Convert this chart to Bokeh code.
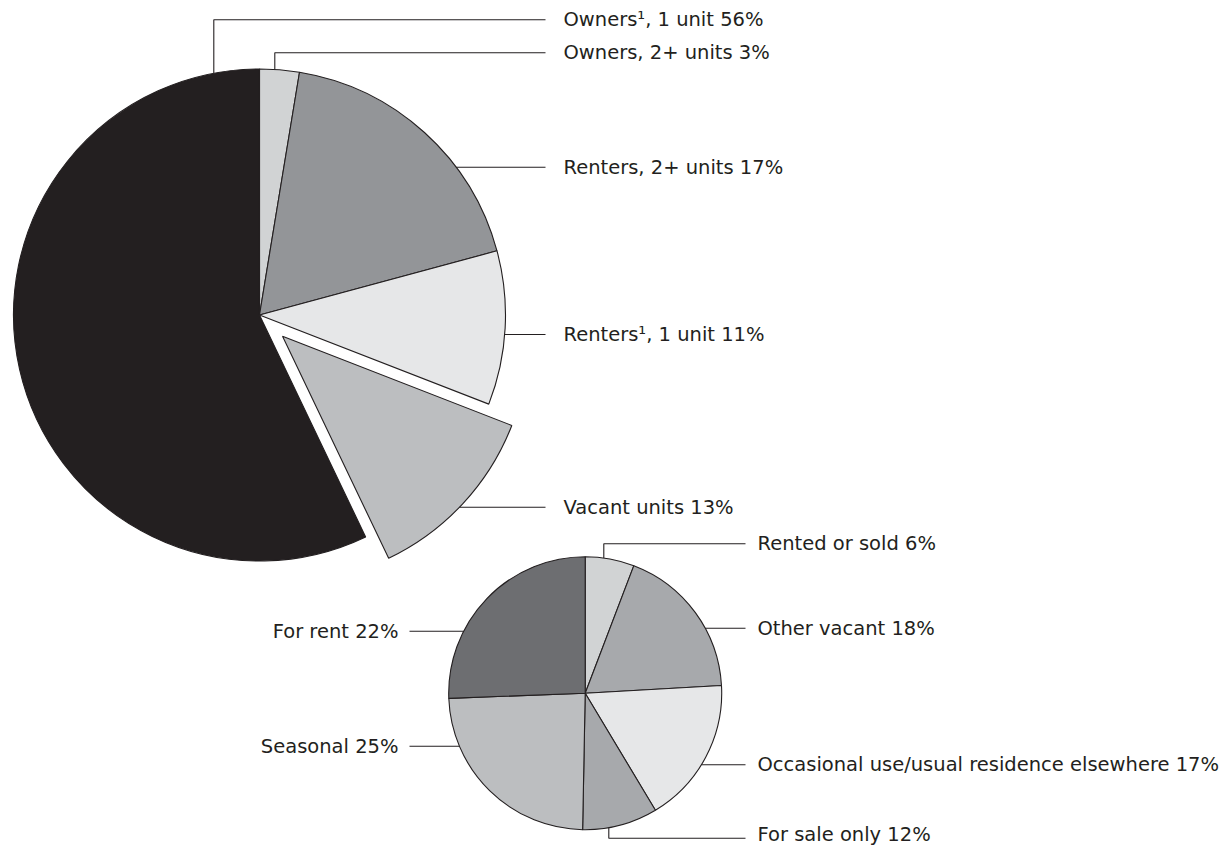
import math
from bokeh.plotting import figure
from bokeh.models import ColumnDataSource, Range1d
from bokeh.embed import file_html
from bokeh.resources import INLINE
from bokeh.core.properties import value

# ---- data (slices clockwise from 12 o'clock) ----
main_labels = ["Owners, 2+ units 3%", "Renters, 2+ units 17%", "Renters\u00b9, 1 unit 11%",
               "Vacant units 13%", "Owners\u00b9, 1 unit 56%"]
main_shares = [2.6, 18.2, 10.1, 12.0, 57.1]
main_colors = ["#d1d3d4", "#939598", "#e6e7e8", "#bcbec0", "#231f20"]

vac_labels = ["Rented or sold 6%", "Other vacant 18%",
              "Occasional use/usual residence elsewhere 17%", "For sale only 12%",
              "Seasonal 25%", "For rent 22%"]
vac_shares = [5.8, 18.3, 17.3, 8.9, 24.1, 25.6]
vac_colors = ["#d1d3d4", "#a7a9ac", "#e6e7e8", "#a7a9ac", "#bcbec0", "#6d6e71"]

# ---- layout (screen pixel space, y downward; drawn with y negated) ----
W, H = 1221, 846
FONT = value("DejaVu Sans")
FSIZE = "19.5px"
INK = "#231f20"

p = figure(width=W, height=H, output_backend="svg", toolbar_location=None,
           x_range=Range1d(0, W), y_range=Range1d(-H, 0),
           min_border=0, outline_line_color=None)
p.axis.visible = False
p.grid.visible = False
p.background_fill_color = "white"


def draw_pie(cx, cy, r, shares, colors, explode):
    total = float(sum(shares))
    xs, ys, sa, ea = [], [], [], []
    cum = 0.0
    centers = []
    for s, e in zip(shares, explode):
        a0 = cum / total
        cum += s
        a1 = cum / total
        mid = (a0 + a1) / 2 * 2 * math.pi  # clockwise from top
        ox = cx + e * math.sin(mid)
        oy = cy - e * math.cos(mid)  # screen y downward
        xs.append(ox)
        ys.append(-oy)
        sa.append(math.pi / 2 - 2 * math.pi * a1)
        ea.append(math.pi / 2 - 2 * math.pi * a0)
        centers.append((ox, oy))
    src = ColumnDataSource(dict(x=xs, y=ys, sa=sa, ea=ea, color=colors))
    p.wedge(x="x", y="y", radius=r, start_angle="sa", end_angle="ea",
            fill_color="color", line_color=INK, line_width=1.1, source=src)
    return centers


def leaders(center, r, specs, labels, line_end, text_x, align):
    lx, ly = [], []
    tx, ty, tt = [], [], []
    for spec, lab in zip(specs, labels):
        kind, a, ly_label, idx, tshift = spec
        cx, cy = center[idx]
        if kind == "vert":
            dx = a - cx
            h = math.sqrt(max(r * r - dx * dx, 0))
            y0 = cy - h if ly_label < cy else cy + h
            xs = [a, a, line_end]
            ys = [y0, ly_label, ly_label]
        else:
            dy = ly_label - cy
            w = math.sqrt(max(r * r - dy * dy, 0))
            x0 = cx + w if line_end > cx else cx - w
            xs = [x0, line_end]
            ys = [ly_label, ly_label]
        lx.append(xs)
        ly.append([-v for v in ys])
        tx.append(text_x)
        ty.append(-(ly_label + tshift))
        tt.append(lab)
    p.multi_line(xs=lx, ys=ly, line_color=INK, line_width=1.1)
    p.text(x=tx, y=ty, text=tt, text_font=FONT, text_font_size=FSIZE,
           text_color=INK, text_baseline="middle", text_align=align)


# big pie
BCX, BCY, BR = 259, 314.5, 246
main_explode = [0, 0, 0, 31.4, 0]
mc = draw_pie(BCX, BCY, BR, main_shares, main_colors, main_explode)
# (kind, anchor x, label y, slice index, text shift)
main_specs = [("vert", 274.3, 52.3, 0, 0), ("horiz", None, 166.7, 1, 0),
              ("horiz", None, 334.0, 2, 0), ("horiz", None, 506.7, 3, 0),
              ("vert", 213.3, 19.3, 4, 0)]
leaders(mc, BR, main_specs, main_labels, 545, 563, "left")

# small pie
SCX, SCY, SR = 584.7, 692.7, 136.5
vc = draw_pie(SCX, SCY, SR, vac_shares, vac_colors, [0] * 6)
right_idx = [0, 1, 2, 3]
right_specs = [("vert", 603.3, 543.3, 0, 0), ("horiz", None, 627.7, 1, 0),
               ("horiz", None, 764.3, 2, 0), ("vert", 608.3, 837.7, 3, -4)]
leaders(vc, SR, right_specs, [vac_labels[i] for i in right_idx], 745, 757, "left")
left_specs = [("horiz", None, 745.7, 4, 0), ("horiz", None, 630.7, 5, 0)]
leaders(vc, SR, left_specs, [vac_labels[4], vac_labels[5]], 409, 398, "right")

open("out.html", "w").write(file_html(p, INLINE))
